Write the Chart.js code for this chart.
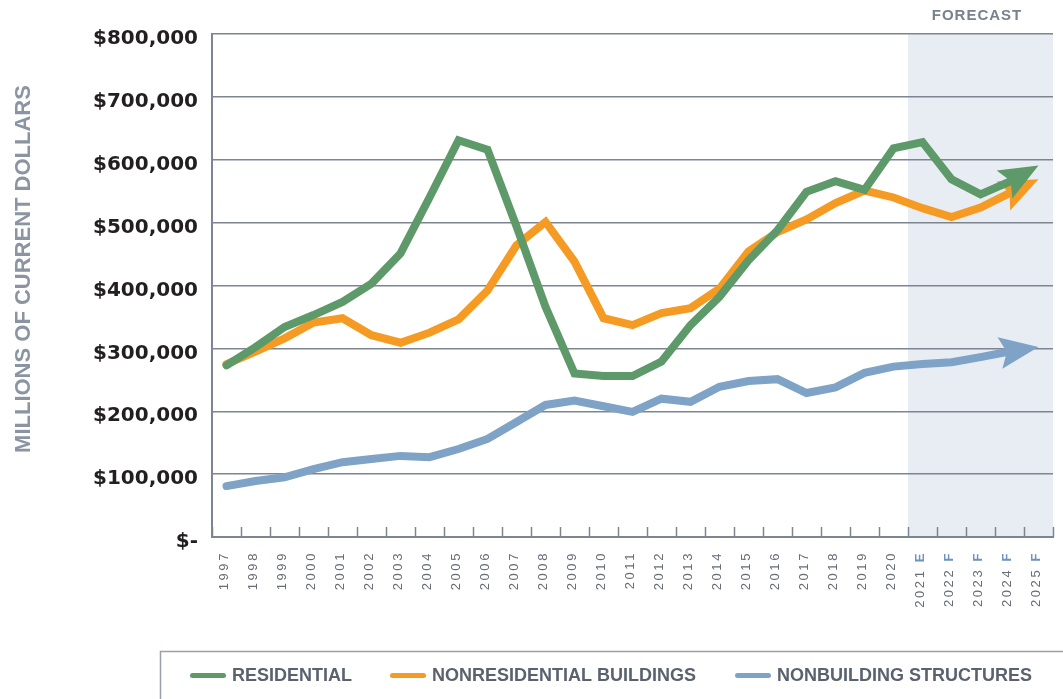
<!DOCTYPE html>
<html><head><meta charset="utf-8">
<script src="https://cdn.jsdelivr.net/npm/chart.js@4.4.1/dist/chart.umd.min.js"></script>
<style>html,body{margin:0;padding:0;background:#fff;}canvas{display:block;}</style>
</head><body>
<canvas id="c" width="1063" height="699"></canvas>
<script>
// ---- data ----
const years = ['1997','1998','1999','2000','2001','2002','2003','2004','2005','2006','2007','2008','2009','2010','2011','2012','2013','2014','2015','2016','2017','2018','2019','2020','2021','2022','2023','2024','2025'];
const yearTags = ['','','','','','','','','','','','','','','','','','','','','','','','','E','F','F','F','F'];
const residential    = [273000,302000,334000,353000,374000,403000,451000,540000,631000,616000,494000,366000,260000,256000,256000,279000,337000,382000,440000,488000,549000,566000,552000,618000,628000,569000,545000,565000,591000];
const nonresidential = [275000,295000,316000,341000,348000,321000,309000,325000,346000,392000,464000,501000,438000,348000,337000,356000,364000,395000,454000,485000,505000,531000,551000,540000,523000,509000,524000,547000,569000];
const nonbuilding    = [81000,89000,95000,108000,119000,124000,129000,127000,140000,156000,183000,210000,217000,208000,199000,220000,215000,239000,248000,251000,229000,238000,261000,271000,275000,278000,286000,295000,302000];
const seriesNames = ['RESIDENTIAL','NONRESIDENTIAL BUILDINGS','NONBUILDING STRUCTURES'];
const yTicks = [0,100000,200000,300000,400000,500000,600000,700000,800000];
const forecastStart = '2021';
const forecastLabel = 'FORECAST';
const yTitle = 'MILLIONS OF CURRENT DOLLARS';

// ---- styles ----
const W = 1063, H = 699;
const COL = {green:'#5e996a', orange:'#f59b23', blue:'#7fa3c6', grid:'#7d8591', shade:'#e8edf4',
             xlab:'#676c76', tag:'#6f93be', ytitle:'#8b95a2', legend:'#5b626e', forecast:'#78818d'};
const SANS = '"Liberation Sans", Arial, sans-serif';

function arrowGeom(meta){
  const pts = meta.data, p1 = pts[pts.length-1], p0 = pts[pts.length-2];
  const dx = p1.x-p0.x, dy = p1.y-p0.y, d = Math.hypot(dx,dy);
  const ux = dx/d, uy = dy/d, nx = -uy, ny = ux;
  const L = 39, hw = 16, notch = 0.82;
  return {ux,uy,nx,ny,
    tip:[p1.x,p1.y],
    c1:[p1.x-ux*L+nx*hw, p1.y-uy*L+ny*hw],
    c2:[p1.x-ux*L-nx*hw, p1.y-uy*L-ny*hw],
    nb:[p1.x-ux*L*notch, p1.y-uy*L*notch]};
}

const arrows = {
  id:'arrows',
  beforeDatasetDraw(chart,args){
    const g = arrowGeom(args.meta), ctx = chart.ctx, R = 60;
    const [bx,by] = g.nb;
    ctx.save();
    ctx.beginPath();
    ctx.rect(0,0,W,H);
    ctx.moveTo(bx+g.nx*R, by+g.ny*R);
    ctx.lineTo(bx+g.nx*R+g.ux*R*2, by+g.ny*R+g.uy*R*2);
    ctx.lineTo(bx-g.nx*R+g.ux*R*2, by-g.ny*R+g.uy*R*2);
    ctx.lineTo(bx-g.nx*R, by-g.ny*R);
    ctx.closePath();
    ctx.clip('evenodd');
  },
  afterDatasetDraw(chart,args){
    const ctx = chart.ctx;
    ctx.restore();
    const g = arrowGeom(args.meta);
    ctx.save();
    ctx.fillStyle = chart.data.datasets[args.index].borderColor;
    ctx.beginPath();
    ctx.moveTo(...g.tip); ctx.lineTo(...g.c1); ctx.lineTo(...g.nb); ctx.lineTo(...g.c2);
    ctx.closePath(); ctx.fill();
    ctx.restore();
  }
};

const decor = {
  id:'decor',
  beforeDraw(chart){
    const {ctx, chartArea:a, scales:{x}} = chart;
    const i0 = years.indexOf(forecastStart);
    const half = (x.getPixelForValue(1)-x.getPixelForValue(0))/2;
    const x0 = x.getPixelForValue(i0)-half;
    ctx.save();
    ctx.fillStyle = COL.shade;
    ctx.fillRect(x0, a.top, a.right-x0, a.bottom-a.top);
    ctx.restore();
  },
  afterDraw(chart){
    const {ctx, chartArea:a, scales:{x}} = chart;
    const half = (x.getPixelForValue(1)-x.getPixelForValue(0))/2;
    // bottom tick marks between categories
    ctx.save();
    ctx.strokeStyle = COL.grid; ctx.lineWidth = 1.5;
    for(let i=0;i<=years.length;i++){
      const px = Math.round(x.getPixelForValue(i)-half)+0.5;
      ctx.beginPath(); ctx.moveTo(px, a.bottom); ctx.lineTo(px, a.bottom-10); ctx.stroke();
    }
    ctx.restore();
    // x labels (rotated, year + forecast tag)
    const top = a.bottom + 14;
    years.forEach((yr,i)=>{
      const cx = x.getPixelForValue(i);
      ctx.save();
      ctx.translate(cx+1.8, top);
      ctx.rotate(-Math.PI/2);
      ctx.textAlign = 'left'; ctx.textBaseline = 'alphabetic';
      ctx.letterSpacing = '2.6px';
      let pos = 0;
      const tag = yearTags[i];
      if(tag){
        ctx.font = 'bold 13px '+SANS;
        const wt = ctx.measureText(tag).width;
        pos -= wt;
        ctx.fillStyle = COL.tag;
        ctx.fillText(tag, pos, 0);
        ctx.font = '13px '+SANS;
        pos -= ctx.measureText(' ').width;
      }
      ctx.font = '13px '+SANS;
      const wy = ctx.measureText(yr).width;
      pos -= wy;
      ctx.fillStyle = COL.xlab;
      ctx.fillText(yr, pos, 0);
      ctx.restore();
    });
    // FORECAST label
    const i0 = years.indexOf(forecastStart);
    const fx0 = x.getPixelForValue(i0)-half;
    ctx.save();
    ctx.font = 'bold 15px '+SANS;
    ctx.letterSpacing = '1px';
    ctx.fillStyle = COL.forecast;
    ctx.textAlign = 'center'; ctx.textBaseline = 'alphabetic';
    ctx.fillText(forecastLabel, (fx0+a.right)/2 - 3.5, 19.5);
    ctx.restore();
    // y title
    ctx.save();
    ctx.translate(30.4, 269);
    ctx.rotate(-Math.PI/2);
    ctx.font = 'bold 22px '+SANS;
    ctx.fillStyle = COL.ytitle;
    ctx.textAlign = 'center'; ctx.textBaseline = 'alphabetic';
    ctx.fillText(yTitle, 0, 0);
    ctx.restore();
    // legend box
    ctx.save();
    ctx.strokeStyle = '#9aa0a8'; ctx.lineWidth = 1.5;
    ctx.strokeRect(160.5, 651.5, W, 100);
    const swatchX = [190, 390, 735];
    ctx.font = 'bold 18px '+SANS;
    ctx.textBaseline = 'middle'; ctx.textAlign = 'left';
    chart.data.datasets.forEach((ds,k)=>{
      const sx = swatchX[k];
      ctx.strokeStyle = ds.borderColor; ctx.lineWidth = 5; ctx.lineCap = 'round';
      ctx.beginPath(); ctx.moveTo(sx+2.5, 675.5); ctx.lineTo(sx+33.5, 675.5); ctx.stroke();
      ctx.fillStyle = COL.legend;
      ctx.fillText(ds.label, sx+42, 676);
    });
    ctx.restore();
  }
};

new Chart(document.getElementById('c'), {
  type:'line',
  data:{
    labels: years,
    datasets:[
      {label:seriesNames[0], data:residential, borderColor:COL.green},
      {label:seriesNames[1], data:nonresidential, borderColor:COL.orange},
      {label:seriesNames[2], data:nonbuilding, borderColor:COL.blue}
    ]
  },
  options:{
    responsive:false, animation:false, devicePixelRatio:1,
    layout:{padding:{top:34, right:10, left:0, bottom:0}},
    elements:{
      line:{borderWidth:8, tension:0, borderJoinStyle:'miter', borderCapStyle:'round', fill:false},
      point:{radius:0, hoverRadius:0}
    },
    plugins:{legend:{display:false}, tooltip:{enabled:false}},
    scales:{
      x:{
        offset:true,
        grid:{display:false, drawTicks:false},
        border:{display:true, color:COL.grid, width:2},
        ticks:{display:false},
        afterFit(s){ s.height = H-537; }
      },
      y:{
        min:0, max:800000,
        afterBuildTicks(s){ s.ticks = yTicks.map(v=>({value:v})); },
        grid:{color:COL.grid, lineWidth:1.5, drawTicks:false},
        border:{display:true, color:COL.grid, width:2},
        ticks:{
          padding:14, labelOffset:5, color:'#231f20',
          font:{family:'"DejaVu Sans", sans-serif', weight:'bold', size:20},
          callback(v){ return v===0 ? '$-' : '$'+v.toLocaleString('en-US'); }
        },
        afterFit(s){ s.width = 212; }
      }
    }
  },
  plugins:[decor, arrows]
});
</script>
</body></html>
